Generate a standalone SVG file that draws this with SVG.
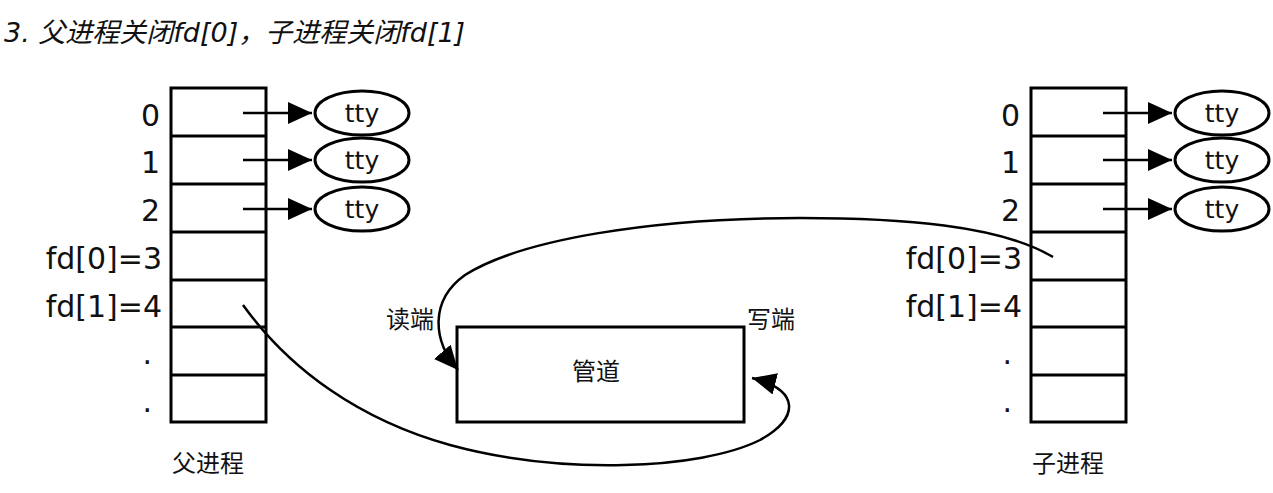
<svg xmlns="http://www.w3.org/2000/svg" width="1273" height="493" viewBox="0 0 1273 493">
<style>
text{font-family:"DejaVu Sans","Noto Sans CJK SC",sans-serif;fill:#111}
.n{font-size:30px;text-anchor:end}
.t{font-size:25px;text-anchor:middle}
.c{font-size:24px}
.b{fill:#fff;stroke:#000;stroke-width:3}
.l{fill:none;stroke:#000;stroke-width:2.5}
</style>
<defs>
<marker id="h" markerWidth="24" markerHeight="22" refX="24" refY="11" orient="auto" markerUnits="userSpaceOnUse"><path d="M0,0L24,11L0,22z"/></marker></defs>
<text x="4" y="42" font-style="italic" style="font-size:27px">3. 父进程关闭fd[0]，子进程关闭fd[1]</text>
<g id="parent">
<rect class="b" x="171" y="88" width="95" height="334"/>
<path class="l" d="M171,136H266M171,184H266M171,232H266M171,280H266M171,327H266M171,375H266" style="stroke-width:3"/>
<text class="n" x="160" y="126">0</text><text class="n" x="160" y="173">1</text><text class="n" x="160" y="221">2</text>
<text class="n" x="162" y="269">fd[0]=3</text><text class="n" x="162" y="317">fd[1]=4</text>
<text class="n" x="152" y="364">.</text><text class="n" x="152" y="412">.</text>
<text class="c" x="172" y="472">父进程</text>
</g>
<g id="child">
<rect class="b" x="1031" y="88" width="95" height="334"/>
<path class="l" d="M1031,136H1126M1031,184H1126M1031,232H1126M1031,280H1126M1031,327H1126M1031,375H1126" style="stroke-width:3"/>
<text class="n" x="1020" y="126">0</text><text class="n" x="1020" y="173">1</text><text class="n" x="1020" y="221">2</text>
<text class="n" x="1022" y="269">fd[0]=3</text><text class="n" x="1022" y="317">fd[1]=4</text>
<text class="n" x="1012" y="364">.</text><text class="n" x="1012" y="412">.</text>
<text class="c" x="1032" y="472">子进程</text>
</g>
<g id="tty">
<ellipse class="b" cx="362" cy="113" rx="47" ry="22"/><text class="t" x="362" y="122">tty</text>
<ellipse class="b" cx="362" cy="160" rx="47" ry="22"/><text class="t" x="362" y="169">tty</text>
<ellipse class="b" cx="362" cy="209" rx="47" ry="22"/><text class="t" x="362" y="218">tty</text>
<ellipse class="b" cx="1222" cy="113" rx="47" ry="22"/><text class="t" x="1222" y="122">tty</text>
<ellipse class="b" cx="1222" cy="160" rx="47" ry="22"/><text class="t" x="1222" y="169">tty</text>
<ellipse class="b" cx="1222" cy="209" rx="47" ry="22"/><text class="t" x="1222" y="218">tty</text>
</g>
<g id="pipe">
<rect class="b" x="457" y="327" width="287" height="95"/>
<text class="c" x="572" y="380">管道</text>
<text class="c" x="386" y="328">读端</text>
<text class="c" x="747" y="328">写端</text>
</g>
<g id="connectors" marker-end="url(#h)">
<path class="l" d="M243,113H312"/><path class="l" d="M243,160H312"/><path class="l" d="M243,209H312"/>
<path class="l" d="M1103,113H1172"/><path class="l" d="M1103,160H1172"/><path class="l" d="M1103,209H1172"/>
<path class="l" d="M1053,257C1000,225 900,218 800,218C650,218 520,240 465,275C430,300 432,340 458,370"/>
<path class="l" d="M243,305C290,370 360,420 450,445C560,475 700,470 760,440C800,418 800,390 752,378"/>
</g>
</svg>
